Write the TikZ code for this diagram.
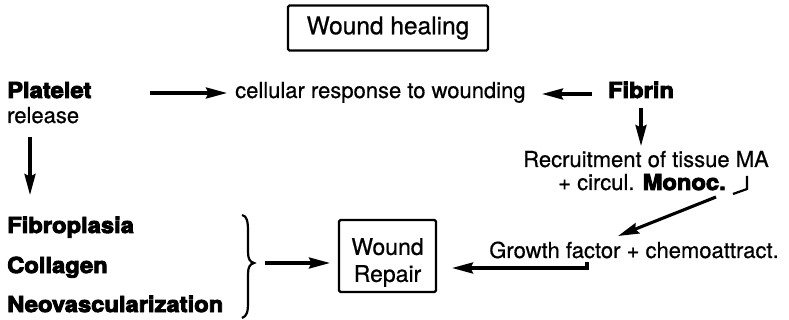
\documentclass[tikz,border=0pt]{standalone}
\usepackage{fontspec}
\setmainfont{TeX Gyre Heros}[UprightFeatures={FakeBold=0.6}]
\newfontfamily\blk{TeX Gyre Heros}[BoldFeatures={FakeBold=4,FakeStretch=1.08}]
\usetikzlibrary{arrows.meta,calc}
\begin{document}
\begin{tikzpicture}[x=1pt,y=-1pt,
  txt/.style={font=\fontsize{22}{27}\selectfont, inner sep=0pt},
  bld/.style={font=\fontsize{22}{27}\selectfont\blk\bfseries, inner sep=0pt},
  arr/.style={line width=3.1pt, -{Stealth[length=21pt,width=11pt,inset=2.5pt]}},
  thin/.style={line width=2.2pt},
  boxed/.style={draw, line width=2.4pt, rounded corners=1.5pt, inner sep=0pt}]
\useasboundingbox (0,0) rectangle (789,320);
% title
\node[boxed, font=\fontsize{24.5}{28}\selectfont, minimum width=200pt, minimum height=45pt] (wh) at (388,28) {Wound healing};
% texts
\node[bld, anchor=base west] (plat) at (7,98) {Platelet};
\node[txt, anchor=base west] (rel) at (7,123) {release};
\node[txt, anchor=base west] (cell) at (235,98) {cellular response to wounding};
\node[bld, anchor=base] (fib) at (641,98) {Fibrin};
\node[txt, anchor=base] (rec) at (646,167) {Recruitment of tissue MA};
\node[txt, anchor=base] (mono) at (642,190) {+ circul. {\blk\bfseries Monoc.}};
\node[txt, anchor=base] (gf) at (634,258) {Growth factor + chemoattract.};
\node[bld, anchor=base west] (fibro) at (7,233) {Fibroplasia};
\node[bld, anchor=base west] (coll) at (7,273) {Collagen};
\node[bld, anchor=base west] (neo) at (7,312) {Neovascularization};
% wound repair box
\node[boxed, minimum width=97pt, minimum height=72pt] (wr) at (387.5,256) {};
\node[txt, align=center, font=\fontsize{23}{27}\selectfont] (wrt) at (387.5,262.5) {Wound\\Repair};
% connector end points
\coordinate (p1) at (150,93);
\coordinate (p2) at (227,93);
\coordinate (f1) at (592,94);
\coordinate (f2) at (542,94);
\coordinate (d1) at (641,108);
\coordinate (d2) at (641,146);
\coordinate (r1) at (30,137);
\coordinate (r2) at (30,195);
\coordinate (m1) at (716,197);
\coordinate (m2) at (618,236);
\coordinate (g1) at (587,262);
\coordinate (g2) at (587,268);
\coordinate (g3) at (452,268);
\coordinate (b1) at (265,263);
\coordinate (b2) at (330,263);
\coordinate (h1) at (733,194);
\coordinate (h2) at (747,189);
\coordinate (h3) at (747,176);
% arrows
\draw[arr] (p1) -- (p2);
\draw[arr] (f1) -- (f2);
\draw[arr] (d1) -- (d2);
\draw[arr] (r1) -- (r2);
\draw[arr] (m1) -- (m2);
\draw[arr] (b1) -- (b2);
\draw[arr] (g1) -- (g2) -- (g3);
\draw[thin] (h1) -- (h2) -- (h3);
% brace
\draw[thin] (242,215) .. controls (247,216) and (248,221) .. (248,232) -- (248,252)
  .. controls (248,259) and (250,262) .. (254,263)
  .. controls (250,264) and (248,267) .. (248,274) -- (248,302)
  .. controls (248,312) and (247,316) .. (242,318);
\end{tikzpicture}
\end{document}
